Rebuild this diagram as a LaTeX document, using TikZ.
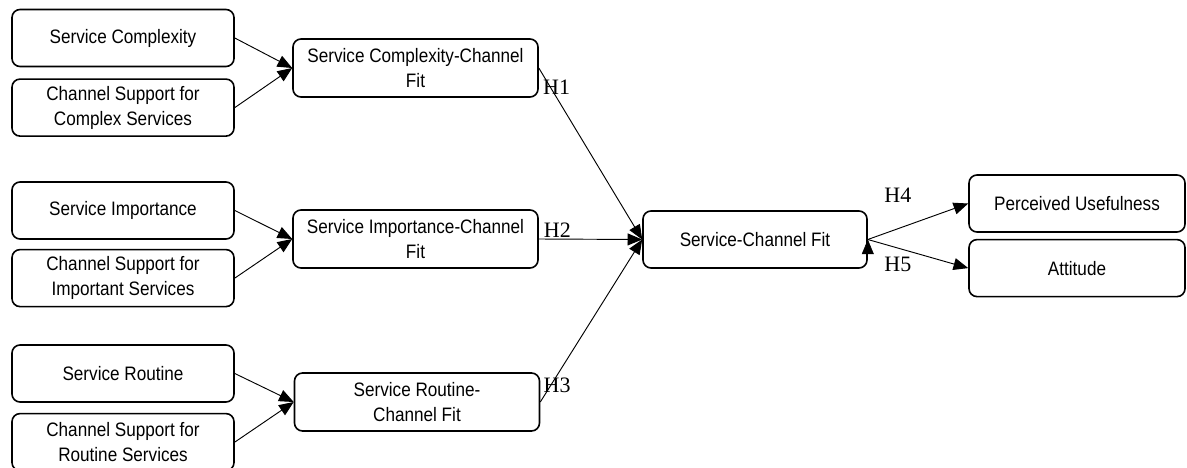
\documentclass[tikz,border=0pt]{standalone}
\usepackage{fontspec}
\usetikzlibrary{arrows.meta,positioning}
\newfontfamily\sansboxes[FakeStretch=0.88]{Liberation Sans}
\newfontfamily\serifhyp{Liberation Serif}
\newcommand{\nodefont}{\sansboxes\fontsize{14.6pt}{18.75pt}\selectfont}
\newcommand{\hypofont}{\serifhyp\fontsize{16.5pt}{19pt}\selectfont}

\begin{document}
\begin{tikzpicture}[x=0.75pt, y=-0.75pt,
	box/.style={draw, rounded corners=6pt, line width=1.2pt, align=center, font=\nodefont, inner sep=2pt},
	factor/.style={box, minimum width=166.5pt, minimum height=42.75pt},
	fitbox/.style={box, minimum width=183.75pt, minimum height=43.5pt},
	outcome/.style={box, minimum width=162pt, minimum height=42.75pt},
	hyp/.style={font=\hypofont, inner sep=1pt},
	every edge/.style={draw, line width=0.7pt}]
	\useasboundingbox (0,0) rectangle (1187,467);

	\node[factor] (sc)  at (123,38)    {Service Complexity};
	\node[factor] (csc) [below=8.25pt of sc] {Channel Support for\\Complex Services};
	\node[factor] (si)  at (123,210.5) {Service Importance};
	\node[factor] (csi) [below=6.75pt of si] {Channel Support for\\Important Services};
	\node[factor] (sr)  at (123,373.5) {Service Routine};
	\node[factor] (csr) [below=7.5pt of sr]  {Channel Support for\\Routine Services};

	\node[fitbox] (scf) at (415.5,68)  {Service Complexity-Channel\\Fit};
	\node[fitbox] (sif) at (415.5,239) {Service Importance-Channel\\Fit};
	\node[fitbox] (srf) at (417,402)   {Service Routine-\\Channel Fit};

	\node[box, minimum width=168pt, minimum height=42.75pt] (chfit) at (755,239.5) {Service-Channel Fit};
	\node[outcome] (pu)  at (1077,203.5) {Perceived Usefulness};
	\node[outcome] (att) [below=4.5pt of pu] {Attitude};

	\draw[-{Triangle[length=11pt,width=9pt]}]
		(sc.east)  edge (scf.west)
		(csc.east) edge (scf.west)
		(si.east)  edge (sif.west)
		(csi.east) edge (sif.west)
		(sr.east)  edge (srf.west)
		(csr.east) edge (srf.west)

		(scf.east) edge node[hyp, pos=0.11, xshift=4.8pt] {H1} (chfit.west)
		(sif.east) edge node[hyp, pos=0.18, above] {H2} (chfit.west)
		(srf.east) edge node[hyp, pos=0.1, xshift=5pt] {H3} (chfit.west)

		(chfit.east) edge node[hyp, pos=0.3, above=18pt] {H4} (pu.west)
		(chfit.east) edge node[hyp, pos=0.3, below=5.7pt] {H5} (att.west);
\end{tikzpicture}
\end{document}
